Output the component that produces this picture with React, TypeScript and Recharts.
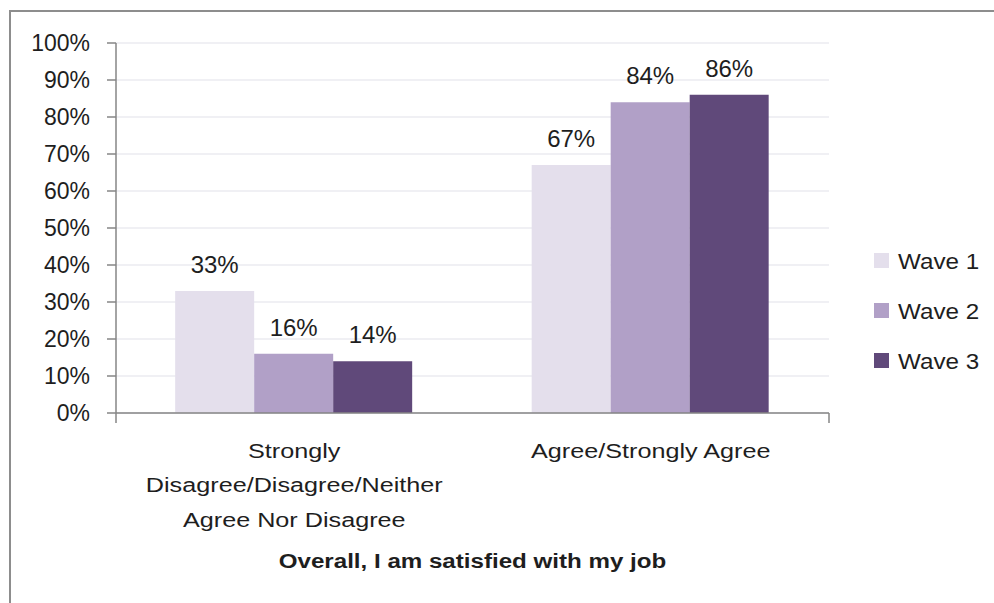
import React from "react";
import { BarChart, Bar, XAxis, YAxis, CartesianGrid, LabelList } from "recharts";

const categories = [
  "Strongly\nDisagree/Disagree/Neither\nAgree Nor Disagree",
  "Agree/Strongly Agree",
];
const wave1 = [33, 67];
const wave2 = [16, 84];
const wave3 = [14, 86];
const seriesNames = ["Wave 1", "Wave 2", "Wave 3"];
const seriesKeys = ["w1", "w2", "w3"];
const seriesColors = ["#E4DFEC", "#B1A0C7", "#60497A"];
const yTicks = [0, 10, 20, 30, 40, 50, 60, 70, 80, 90, 100];
const boundaryTicks = [0, 1, 2];
const title = "Overall, I am satisfied with my job";

const data = categories.map((c, i) => ({
  category: c,
  w1: wave1[i],
  w2: wave2[i],
  w3: wave3[i],
}));

const FONT = "'Liberation Sans', Arial, sans-serif";
const TEXT = "#1e1e1e";
const AXIS = "#868686";

const CategoryTick = (props: any) => {
  const { x, y, payload } = props;
  const lines = String(payload.value).split("\n");
  return (
    <g transform={`translate(${x},${y})`}>
      <text
        textAnchor="middle"
        fontFamily={FONT}
        fontSize={21}
        fill={TEXT}
        transform="scale(1.2,1)"
      >
        {lines.map((l, i) => (
          <tspan key={i} x={0} y={44 + i * 34.5}>
            {l}
          </tspan>
        ))}
      </text>
    </g>
  );
};

export default function App() {
  return (
    <div
      style={{
        position: "absolute",
        left: 0,
        top: 0,
        width: 994,
        height: 603,
        overflow: "hidden",
        background: "#fff",
      }}
    >
      <div
        style={{
          position: "absolute",
          left: 9,
          top: 10,
          width: 1000,
          height: 700,
          borderTop: "2px solid #8d8d8d",
          borderLeft: "2px solid #8d8d8d",
        }}
      />
      <div style={{ position: "absolute", left: 0, top: 0 }}>
        <BarChart
          width={994}
          height={603}
          data={data}
          margin={{ top: 43, right: 165, left: 0, bottom: 0 }}
          barCategoryGap="16.6%"
          barGap={0}
        >
          <CartesianGrid xAxisId="cat" vertical={false} stroke="#EBEBF0" strokeWidth={1.5} />
          <XAxis
            xAxisId="bound"
            type="number"
            domain={[0, 2]}
            ticks={boundaryTicks}
            interval={0}
            height={1}
            tick={{ fill: "none", fontSize: 1 }}
            tickFormatter={() => ""}
            tickSize={10}
            axisLine={{ stroke: AXIS, strokeWidth: 1.5 }}
            tickLine={{ stroke: AXIS, strokeWidth: 1.5 }}
          />
          <XAxis
            xAxisId="cat"
            dataKey="category"
            height={189}
            axisLine={false}
            tickLine={false}
            tickSize={0}
            tickMargin={0}
            interval={0}
            tick={<CategoryTick />}
          />
          <YAxis
            width={116}
            domain={[0, 100]}
            ticks={yTicks}
            interval={0}
            tickSize={9}
            tickMargin={17}
            tickFormatter={(v: number) => `${v}%`}
            axisLine={{ stroke: AXIS, strokeWidth: 1.5 }}
            tickLine={{ stroke: AXIS, strokeWidth: 1.5 }}
            tick={{ fontFamily: FONT, fontSize: 23, fill: TEXT }}
          />
          {seriesKeys.map((k, i) => (
            <Bar
              key={k}
              xAxisId="cat"
              dataKey={k}
              name={seriesNames[i]}
              fill={seriesColors[i]}
              isAnimationActive={false}
            >
              <LabelList
                dataKey={k}
                position="top"
                offset={18}
                formatter={(v: any) => `${v}%`}
                style={{ fontFamily: FONT, fontSize: 24, fill: TEXT }}
              />
            </Bar>
          ))}
        </BarChart>
      </div>
      <svg
        width={994}
        height={603}
        style={{ position: "absolute", left: 0, top: 0, pointerEvents: "none" }}
      >
        <text
          transform="translate(472.5,568) scale(1.15,1)"
          textAnchor="middle"
          fontFamily={FONT}
          fontWeight="bold"
          fontSize={21}
          fill={TEXT}
        >
          {title}
        </text>
        {seriesNames.map((n, i) => (
          <g key={n}>
            <rect x={874} y={253 + i * 50} width={15} height={15} fill={seriesColors[i]} />
            <text
              transform={`translate(898,${269 + i * 50}) scale(1.1,1)`}
              fontFamily={FONT}
              fontSize={22}
              fill={TEXT}
            >
              {n}
            </text>
          </g>
        ))}
      </svg>
    </div>
  );
}
